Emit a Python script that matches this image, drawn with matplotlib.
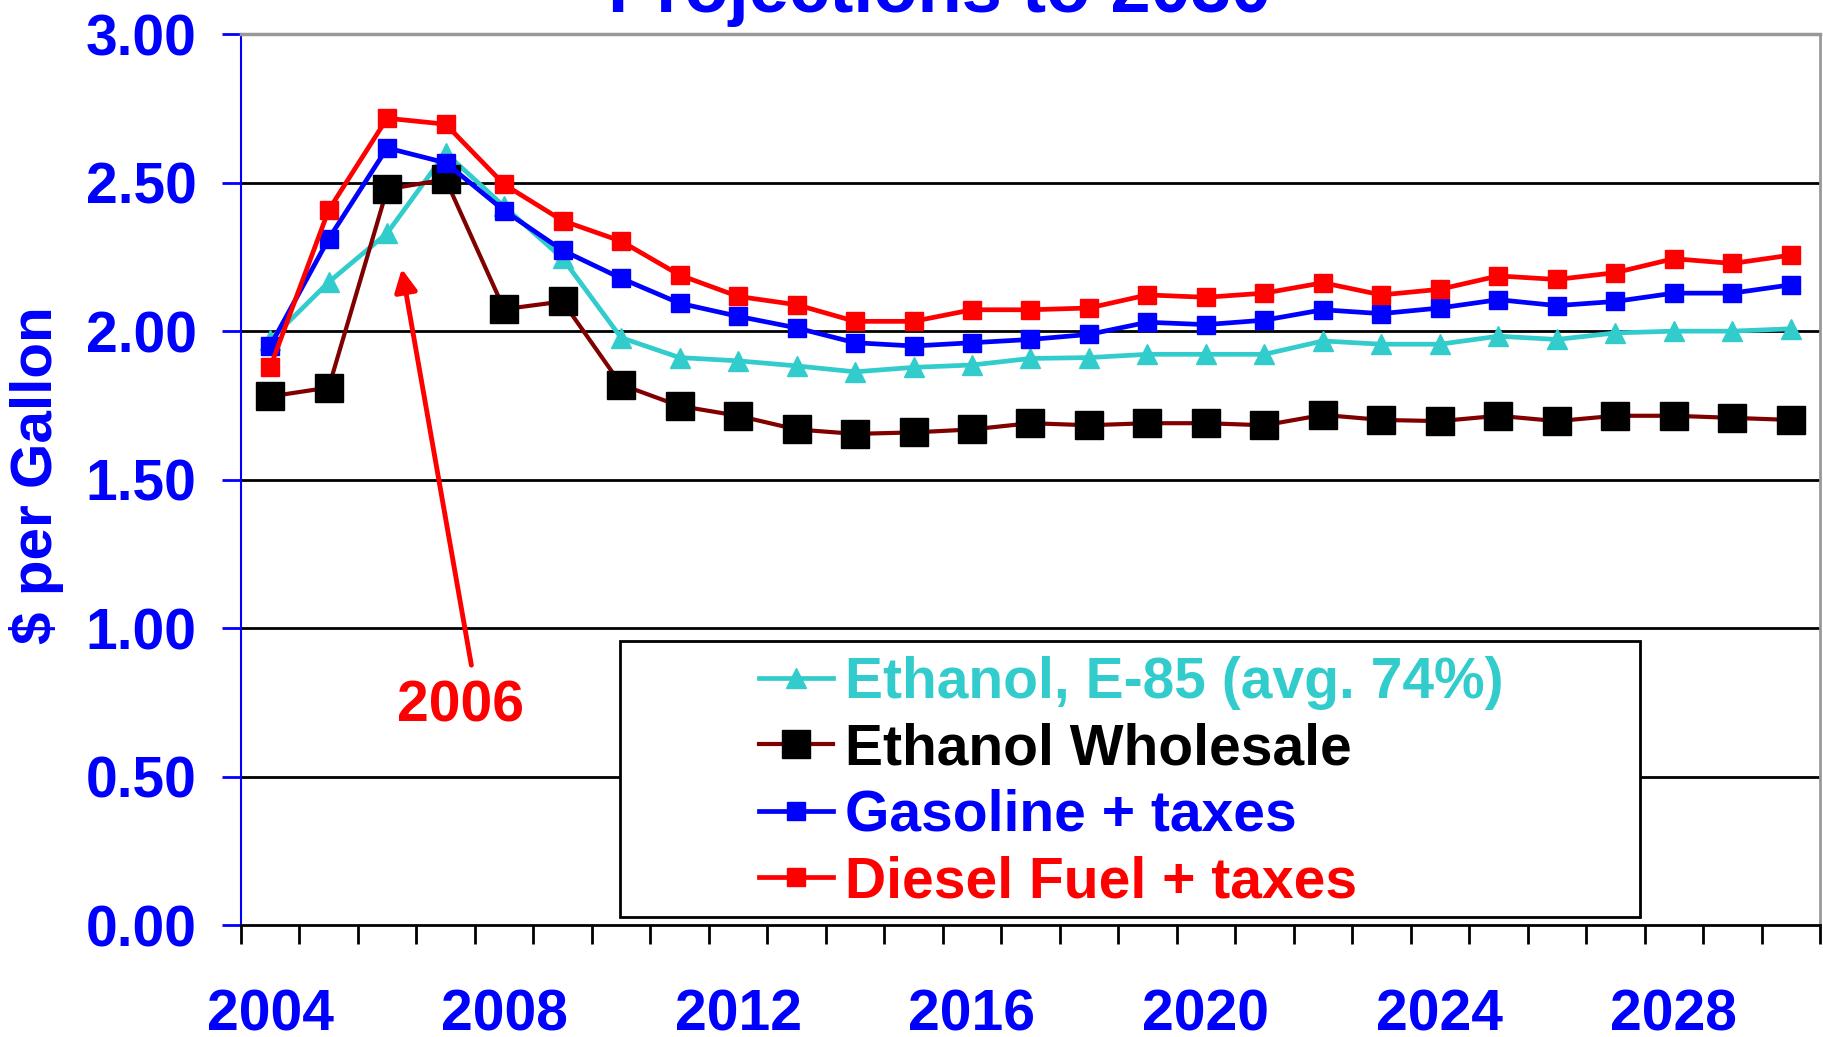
#!/usr/bin/env python3
"""Fuel price projections chart: ethanol, gasoline and diesel, $ per gallon."""

import matplotlib
matplotlib.use("Agg")
import matplotlib.pyplot as plt
from matplotlib.patches import Rectangle

plt.rcParams["font.family"] = ["Liberation Sans", "DejaVu Sans"]
plt.rcParams["font.weight"] = "bold"

years = list(range(2004, 2031))
tick_years = [2004, 2008, 2012, 2016, 2020, 2024, 2028]
y_ticks = [0.0, 0.5, 1.0, 1.5, 2.0, 2.5, 3.0]

e85 = [1.97, 2.165, 2.33, 2.60, 2.42, 2.245, 1.978, 1.911, 1.90, 1.883, 1.863,
       1.878, 1.886, 1.908, 1.911, 1.922, 1.922, 1.922, 1.967, 1.956, 1.956,
       1.983, 1.972, 1.994, 2.00, 2.00, 2.008]
wholesale = [1.78, 1.81, 2.478, 2.511, 2.074, 2.10, 1.82, 1.748, 1.715, 1.669, 1.654,
             1.659, 1.669, 1.69, 1.683, 1.69, 1.69, 1.683, 1.718, 1.701, 1.697,
             1.715, 1.697, 1.715, 1.715, 1.708, 1.701]
gasoline = [1.95, 2.311, 2.617, 2.567, 2.406, 2.272, 2.178, 2.094, 2.05, 2.011, 1.961,
            1.95, 1.961, 1.972, 1.989, 2.03, 2.022, 2.037, 2.072, 2.059, 2.078,
            2.106, 2.086, 2.10, 2.128, 2.128, 2.156]
diesel = [1.878, 2.408, 2.717, 2.697, 2.494, 2.372, 2.303, 2.189, 2.117, 2.089, 2.033,
          2.033, 2.072, 2.072, 2.078, 2.122, 2.114, 2.128, 2.163, 2.122, 2.141,
          2.186, 2.174, 2.197, 2.244, 2.228, 2.256]

labels = ["Ethanol, E-85 (avg. 74%)", "Ethanol Wholesale", "Gasoline + taxes", "Diesel Fuel + taxes"]
label_colors = ["#33CCCC", "black", "#0000FF", "#FF0000"]

fig = plt.figure(figsize=(18.24, 10.37), dpi=100)
ax = fig.add_axes([0.1321, 0.108, 0.8657, 0.859])

ax.plot(years, e85, color="#33CCCC", lw=3.4, marker="^", ms=15, label=labels[0])
ax.plot(years, wholesale, color="#800000", lw=3.0, marker="s", ms=20,
        mfc="black", mec="black", label=labels[1])
ax.plot(years, gasoline, color="#0000FF", lw=3.4, marker="s", ms=13, label=labels[2])
ax.plot(years, diesel, color="#FF0000", lw=3.4, marker="s", ms=13, label=labels[3])

ax.set_xlim(2003.5, 2030.5)
ax.set_ylim(0, 3.0)
ax.set_yticks(y_ticks)
ax.set_yticklabels([f"{v:.2f}" for v in y_ticks])
ax.set_xticks(tick_years)
ax.set_xticklabels([str(y) for y in tick_years])
ax.set_xticks([y - 0.5 for y in years] + [2030.5], minor=True)

ax.tick_params(axis="y", colors="#0000FF", labelsize=41, length=14, width=2, pad=18,
               labelcolor="#0000FF")
ax.tick_params(axis="x", which="major", length=0, labelsize=41, pad=46, labelcolor="#0000FF")
ax.tick_params(axis="x", which="minor", length=14, width=2, color="black")

for v in y_ticks[1:-1]:
    ax.axhline(v, color="black", lw=2, zorder=0.5)

ax.spines["left"].set_color("#0000FF")
ax.spines["left"].set_linewidth(1.5)
ax.spines["bottom"].set_color("black")
ax.spines["bottom"].set_linewidth(2)
ax.spines["top"].set_color("#999999")
ax.spines["top"].set_linewidth(2.5)
ax.spines["right"].set_color("#999999")
ax.spines["right"].set_linewidth(2)

ax.set_ylabel("$ per Gallon", fontsize=42, color="#0000FF", fontweight="bold")
ax.yaxis.set_label_coords(-0.112, 0.505)

fig.text(0.515, 0.9884, "Projections to 2030", fontsize=52, color="#0000FF",
         fontweight="bold", ha="center", va="baseline")

# annotation for 2006 peak
ax.annotate("", xy=(2006.25, 2.21), xytext=(2007.44, 0.875),
            arrowprops=dict(arrowstyle="-|>", color="#FF0000", lw=3.5, mutation_scale=34,
                            shrinkA=0, shrinkB=0))
ax.text(2007.25, 0.737, "2006", color="#FF0000", fontsize=41, fontweight="bold",
        ha="center", va="center")

# legend frame drawn separately so the padding can be uneven
ax.add_patch(Rectangle((0.240, 0.009), 0.646, 0.310, transform=ax.transAxes,
                       facecolor="white", edgecolor="black", lw=2, zorder=3))
leg = ax.legend(loc="center left", bbox_to_anchor=(0.328, 0.160), frameon=False,
                fontsize=41, handlelength=1.3, handletextpad=0.22, labelspacing=0.22,
                borderpad=0, borderaxespad=0)
leg.set_zorder(4)
for txt, c in zip(leg.get_texts(), label_colors):
    txt.set_color(c)
    txt.set_fontweight("bold")

fig.savefig("out.png", dpi=100)
